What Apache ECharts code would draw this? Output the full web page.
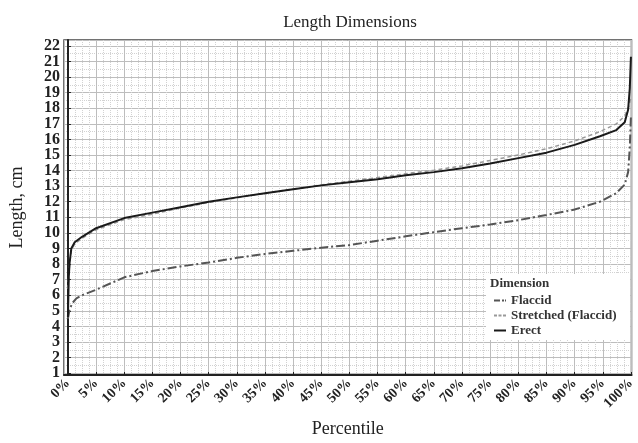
<!DOCTYPE html>
<html>
<head>
<meta charset="utf-8">
<script src="https://cdn.jsdelivr.net/npm/echarts@6/dist/echarts.min.js"></script>
<style>
  html, body { margin: 0; padding: 0; background: #fff; }
  #chart { width: 638px; height: 443px; }
</style>
</head>
<body>
<div id="chart"></div>
<script>
// percentile (x) and length in cm (y)
var erectPct = [0, 0.15, 0.3, 0.6, 1.2, 2.5, 5, 10, 15, 20, 25, 30, 35, 40, 45, 50, 55, 60, 65, 70, 75, 80, 85, 90, 94.5, 97.4, 98.9, 99.5, 99.8, 100];
var erectLen = [4.6, 7.2, 8.1, 9.0, 9.4, 9.75, 10.3, 10.95, 11.3, 11.65, 12.0, 12.28, 12.55, 12.8, 13.05, 13.25, 13.45, 13.7, 13.9, 14.15, 14.45, 14.8, 15.15, 15.65, 16.2, 16.6, 17.1, 17.9, 19.3, 21.3];

var stretchedPct = [0, 0.3, 0.6, 1.2, 2.5, 5, 10, 15, 20, 25, 30, 35, 40, 45, 50, 55, 60, 65, 70, 75, 80, 85, 90, 94.5, 97.4, 98.9, 99.6, 100];
var stretchedLen = [6.4, 8.0, 8.85, 9.3, 9.65, 10.2, 10.85, 11.2, 11.6, 11.95, 12.25, 12.55, 12.82, 13.08, 13.32, 13.55, 13.8, 14.02, 14.3, 14.65, 15.0, 15.4, 15.9, 16.5, 17.0, 17.5, 18.1, 18.7];

var flaccidPct = [0, 0.3, 0.8, 1.5, 2.5, 5, 10, 15, 20, 25, 30, 35, 40, 45, 50, 55, 60, 65, 70, 75, 80, 85, 90, 94.5, 97.4, 98.9, 99.5, 99.8, 100];
var flaccidLen = [4.5, 5.1, 5.5, 5.8, 6.0, 6.35, 7.15, 7.55, 7.85, 8.1, 8.4, 8.65, 8.85, 9.05, 9.22, 9.5, 9.78, 10.05, 10.3, 10.54, 10.82, 11.15, 11.5, 12.0, 12.55, 13.1, 13.9, 15.5, 17.5];

var seriesNames = ["Flaccid", "Stretched (Flaccid)", "Erect"];

function zip(xs, ys) {
  var out = [];
  for (var i = 0; i < xs.length; i++) out.push([xs[i], ys[i]]);
  return out;
}

var font = "Liberation Serif";
var myChart = echarts.init(document.getElementById("chart"));

const option = {
  animation: false,
  backgroundColor: "#fff",
  title: [
    {
      text: "Length Dimensions",
      left: 345,
      top: 9,
      textAlign: "center",
      textStyle: { fontFamily: font, fontSize: 17, fontWeight: "normal", color: "#222" },
    },
    {
      text: "Dimension",
      left: 490,
      top: 277,
      padding: 0,
      textStyle: { fontFamily: font, fontSize: 13, fontWeight: "bold", color: "#333" },
    },
  ],
  graphic: [
    {
      // white box behind the legend
      type: "rect",
      left: 486,
      top: 274,
      z: 3,
      shape: { width: 144, height: 66 },
      style: { fill: "#fff" },
    },
  ],
  legend: {
    data: [
      { name: "Flaccid", icon: "path://M0 0h6v2h-6zM8 0h2v2h-2zM11 0h1v2h-1z" },
      { name: "Stretched (Flaccid)", icon: "path://M0 0h3v2h-3zM4.5 0h3v2h-3zM9 0h3v2h-3z" },
      { name: "Erect", icon: "rect" },
    ],
    orient: "vertical",
    left: 494,
    top: 294,
    padding: 0,
    itemGap: 2,
    itemWidth: 12,
    itemHeight: 2,
    z: 5,
    textStyle: { fontFamily: font, fontSize: 13, fontWeight: "bold", color: "#333", lineHeight: 13 },
  },
  grid: {
    left: 63,
    right: 6,
    top: 40,
    bottom: 64,
    show: true,
    borderColor: "#444",
    borderWidth: 1.5,
  },
  xAxis: {
    type: "value",
    min: -0.7,
    max: 100.1,
    minInterval: 5,
    maxInterval: 5,
    name: "Percentile",
    nameLocation: "middle",
    nameGap: 45,
    nameTextStyle: { fontFamily: font, fontSize: 18, color: "#222" },
    axisLine: { lineStyle: { color: "#222", width: 2 } },
    axisTick: { inside: true, length: 3, lineStyle: { color: "#222" } },
    axisLabel: {
      rotate: 45,
      margin: 6,
      showMinLabel: false,
      fontFamily: font,
      fontSize: 14,
      fontWeight: "bold",
      color: "#222",
      formatter: function (v) {
        return Math.abs(v - Math.round(v)) < 1e-6 && Math.round(v) % 5 === 0 ? Math.round(v) + "%" : "";
      },
    },
    splitLine: { show: true, lineStyle: { color: "#bdbdbd", width: 1 } },
    minorTick: { show: false, splitNumber: 4 },
    minorSplitLine: { show: true, lineStyle: { color: "#d2d2d2", type: "dotted" } },
  },
  yAxis: {
    type: "value",
    min: 0.88,
    max: 22.38,
    minInterval: 1,
    maxInterval: 1,
    name: "Length, cm",
    nameLocation: "middle",
    nameGap: 38,
    nameTextStyle: { fontFamily: font, fontSize: 18, color: "#222" },
    axisLine: { show: true, lineStyle: { color: "#222", width: 2 } },
    axisTick: { show: true, inside: true, length: 3, lineStyle: { color: "#222" } },
    axisLabel: {
      margin: 4,
      showMinLabel: false,
      showMaxLabel: false,
      fontFamily: font,
      fontSize: 16,
      fontWeight: "bold",
      color: "#222",
      formatter: function (v) {
        return Math.abs(v - Math.round(v)) < 1e-6 ? String(Math.round(v)) : "";
      },
    },
    splitLine: { show: true, lineStyle: { color: "#bdbdbd", width: 1 } },
    minorTick: { show: false, splitNumber: 2 },
    minorSplitLine: { show: true, lineStyle: { color: "#d2d2d2", type: "dotted" } },
  },
  series: [
    {
      name: "Flaccid",
      type: "line",
      symbol: "none",
      data: zip(flaccidPct, flaccidLen),
      itemStyle: { color: "#555" },
      lineStyle: { color: "#555", width: 2, type: [9, 3, 2, 3] },
      z: 3,
    },
    {
      name: "Stretched (Flaccid)",
      type: "line",
      symbol: "none",
      data: zip(stretchedPct, stretchedLen),
      itemStyle: { color: "#999" },
      lineStyle: { color: "#999", width: 1.5, type: [4, 3] },
      z: 2,
    },
    {
      name: "Erect",
      type: "line",
      symbol: "none",
      data: zip(erectPct, erectLen),
      itemStyle: { color: "#1a1a1a" },
      lineStyle: { color: "#1a1a1a", width: 2 },
      z: 4,
    },
  ],
};
myChart.setOption(option);
window.onresize = function () {
  myChart.resize();
};
</script>
</body>
</html>
